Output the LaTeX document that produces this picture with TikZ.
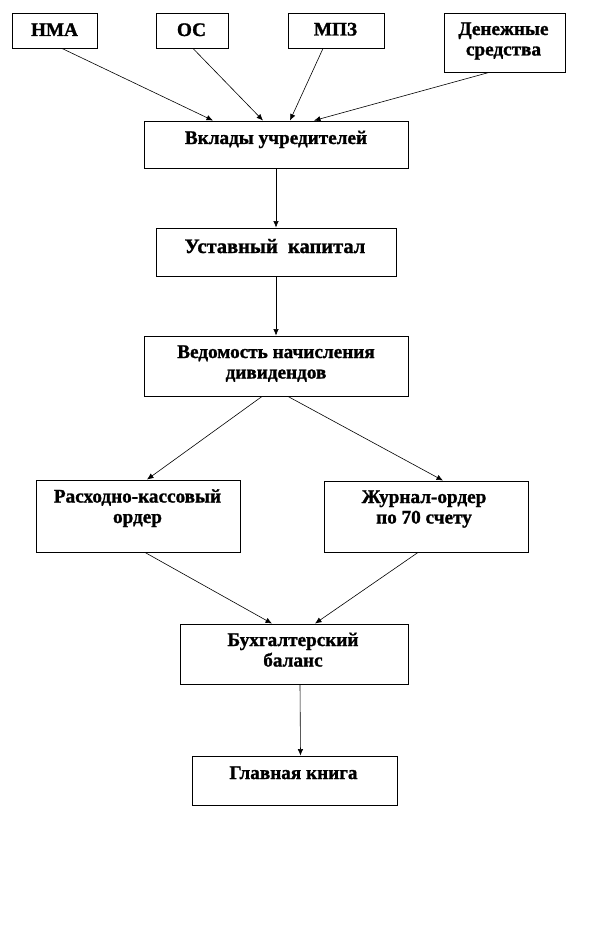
\documentclass[tikz,border=0pt]{standalone}
\usepackage{fontspec}
\setmainfont{Liberation Serif}[BoldFeatures={FakeBold=1.2}]
\usetikzlibrary{arrows.meta}
\begin{document}
\begin{tikzpicture}[x=1pt,y=-1pt,
  box/.style={draw=black,line width=0.9pt,fill=white,inner sep=0pt},
  lbl/.style={inner sep=0pt,anchor=base,align=center,font=\bfseries\fontsize{19.2}{20.5}\selectfont},
  big/.style={font=\bfseries\fontsize{20.5}{22}\selectfont},
  arr/.style={line width=0.6pt,-{Latex[length=6.5pt,width=5.5pt]}}]
\useasboundingbox (0,0) rectangle (612,936);
% boxes
\node[box,minimum width=85pt,minimum height=35pt] (nma) at (54.5,30.5) {};
\node[box,minimum width=72pt,minimum height=35pt] (os) at (192,30.5) {};
\node[box,minimum width=96pt,minimum height=35pt] (mpz) at (336,30.5) {};
\node[box,minimum width=121pt,minimum height=59pt] (den) at (504.5,42.5) {};
\node[box,minimum width=264pt,minimum height=47pt] (vk) at (276,144.5) {};
\node[box,minimum width=240pt,minimum height=48pt] (ust) at (276,252) {};
\node[box,minimum width=264pt,minimum height=60pt] (ved) at (276,366) {};
\node[box,minimum width=204pt,minimum height=72pt] (rko) at (138,516) {};
\node[box,minimum width=204pt,minimum height=71pt] (jo) at (426,516.5) {};
\node[box,minimum width=228pt,minimum height=60pt] (bux) at (294,654) {};
\node[box,minimum width=205pt,minimum height=49pt] (gk) at (294.5,780.5) {};
% texts (multi-line texts are placed by the baseline of their last line)
\node[lbl] (nmat) at (54.5,36) {НМА};
\node[lbl] (ost) at (191.5,36) {ОС};
\node[lbl] (mpzt) at (335.5,35.5) {МПЗ};
\node[lbl] (dent) at (503.5,55.5) {Денежные\\средства};
\node[lbl] (vkt) at (276,144) {Вклады учредителей};
\node[lbl,big] (ustt) at (275,253) {Уставный\ \ капитал};
\node[lbl] (vedt) at (276,378.5) {Ведомость начисления\\дивидендов};
\node[lbl] (rkot) at (137.5,523) {Расходно-кассовый\\ордер};
\node[lbl] (jot) at (424,523.5) {Журнал-ордер\\по 70 счету};
\node[lbl] (buxt) at (293,666.5) {Бухгалтерский\\баланс};
\node[lbl] (gkt) at (293.5,779) {Главная книга};
% connectors
\draw[arr] ([xshift=7.5pt]nma.south) -- ([xshift=-63pt]vk.north);
\draw[arr] ([xshift=1pt]os.south) -- ([xshift=-13pt]vk.north);
\draw[arr] ([xshift=-13pt]mpz.south) -- ([xshift=14pt]vk.north);
\draw[arr] ([xshift=-15.5pt]den.south) -- ([xshift=38pt]vk.north);
\draw[arr] (vk.south) -- (ust.north);
\draw[arr] (ust.south) -- (ved.north);
\draw[arr] ([xshift=-14pt]ved.south) -- ([xshift=9pt]rko.north);
\draw[arr] ([xshift=12pt]ved.south) -- ([xshift=17pt]jo.north);
\draw[arr] ([xshift=7pt]rko.south) -- ([xshift=-22pt]bux.north);
\draw[arr] ([xshift=-8pt]jo.south) -- ([xshift=21pt]bux.north);
\draw[arr] ([xshift=6pt]bux.south) -- ([xshift=6pt]gk.north);
\end{tikzpicture}
\end{document}
